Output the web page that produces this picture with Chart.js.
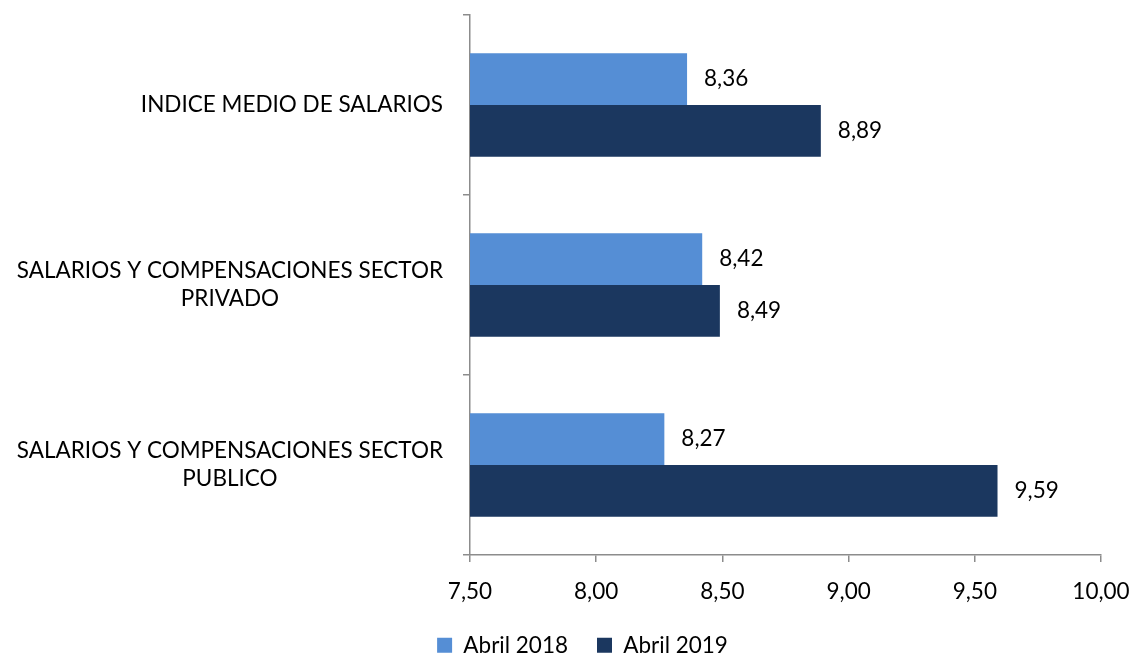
<!DOCTYPE html>
<html>
<head>
<meta charset="utf-8">
<script src="https://cdn.jsdelivr.net/npm/chart.js@4/dist/chart.umd.min.js"></script>
<style>
    html, body { margin: 0; padding: 0; background: #ffffff; }
    #wrap { width: 1133px; height: 657px; }
</style>
</head>
<body>
<div id="wrap"><canvas id="salary-chart" width="1133" height="657"></canvas></div>
<script>
const categories = [
    ['INDICE MEDIO DE SALARIOS'],
    ['SALARIOS Y COMPENSACIONES SECTOR', 'PRIVADO'],
    ['SALARIOS Y COMPENSACIONES SECTOR', 'PUBLICO']
];
const seriesNames = ['Abril 2018', 'Abril 2019'];
const abril2018 = [8.36, 8.42, 8.27];
const abril2019 = [8.89, 8.49, 9.59];
const xTicks = [7.5, 8.0, 8.5, 9.0, 9.5, 10.0];

const FONT = 'Lato, "Open Sans", sans-serif';
const FONT_SIZE = 22.5;
const AXIS_GREY = '#8c8c8c';

const formatComma = (value) => value.toFixed(2).replace('.', ',');

// Category labels: block right aligned, lines centred within the block
const categoryLabelsPlugin = {
    id: 'categoryLabels',
    afterDraw: (chart) => {
        const ctx = chart.ctx;
        const yScale = chart.scales.y;
        const rightEdge = chart.chartArea.left - 27;
        const lineHeight = 28;
        ctx.save();
        ctx.font = `${FONT_SIZE}px ${FONT}`;
        ctx.fillStyle = '#000000';
        ctx.textAlign = 'center';
        ctx.textBaseline = 'middle';
        categories.forEach((lines, i) => {
            const centerY = yScale.getPixelForValue(i);
            const maxWidth = Math.max(...lines.map(line => ctx.measureText(line).width));
            const centerX = rightEdge - maxWidth / 2;
            const startY = centerY - (lines.length - 1) * lineHeight / 2;
            lines.forEach((line, j) => {
                ctx.fillText(line, centerX, startY + j * lineHeight);
            });
        });
        ctx.restore();
    }
};

const valueLabelsPlugin = {
    id: 'valueLabels',
    afterDatasetsDraw: (chart) => {
        const ctx = chart.ctx;
        ctx.save();
        ctx.font = `${FONT_SIZE}px ${FONT}`;
        ctx.fillStyle = '#000000';
        ctx.textAlign = 'left';
        ctx.textBaseline = 'middle';
        chart.data.datasets.forEach((dataset, d) => {
            chart.getDatasetMeta(d).data.forEach((bar, i) => {
                ctx.fillText(formatComma(dataset.data[i]), bar.x + 17, bar.y);
            });
        });
        ctx.restore();
    }
};

const salaryCtx = document.querySelector('canvas#salary-chart').getContext('2d');

const salaryChart = new Chart(salaryCtx, {
    type: 'bar',
    data: {
        labels: categories,
        datasets: [
            {
                label: seriesNames[0],
                data: abril2018,
                backgroundColor: '#558ed5'
            },
            {
                label: seriesNames[1],
                data: abril2019,
                backgroundColor: '#1b375f'
            }
        ]
    },
    options: {
        responsive: false,
        animation: false,
        indexAxis: 'y',
        layout: {
            padding: { left: 64, right: 32, top: 15, bottom: 0 }
        },
        datasets: {
            bar: {
                barPercentage: 1,
                categoryPercentage: 0.575
            }
        },
        scales: {
            x: {
                min: 7.5,
                max: 10,
                afterBuildTicks: (scale) => {
                    scale.ticks = xTicks.map(value => ({ value }));
                },
                afterFit: (scale) => {
                    // fixed height, and no extra room for the end labels
                    scale.height = 50;
                    scale.paddingLeft = 0;
                    scale.paddingRight = 0;
                },
                border: { color: AXIS_GREY, width: 1.5 },
                grid: {
                    drawOnChartArea: false,
                    tickLength: 7,
                    color: AXIS_GREY,
                    lineWidth: 1.5
                },
                ticks: {
                    color: '#000000',
                    padding: 16,
                    font: { family: FONT, size: FONT_SIZE },
                    callback: (value) => formatComma(value)
                }
            },
            y: {
                afterFit: (scale) => {
                    scale.width = 406;
                },
                border: { color: AXIS_GREY, width: 1.5 },
                grid: {
                    offset: true,
                    drawOnChartArea: false,
                    tickLength: 7,
                    color: AXIS_GREY,
                    lineWidth: 1.5
                },
                ticks: {
                    display: false
                }
            }
        },
        plugins: {
            legend: {
                position: 'bottom',
                maxHeight: 52,
                labels: {
                    color: '#000000',
                    boxWidth: 15,
                    boxHeight: 15,
                    padding: 29,
                    font: { family: FONT, size: FONT_SIZE }
                }
            },
            tooltip: { enabled: false }
        }
    },
    plugins: [categoryLabelsPlugin, valueLabelsPlugin]
});
</script>
</body>
</html>
